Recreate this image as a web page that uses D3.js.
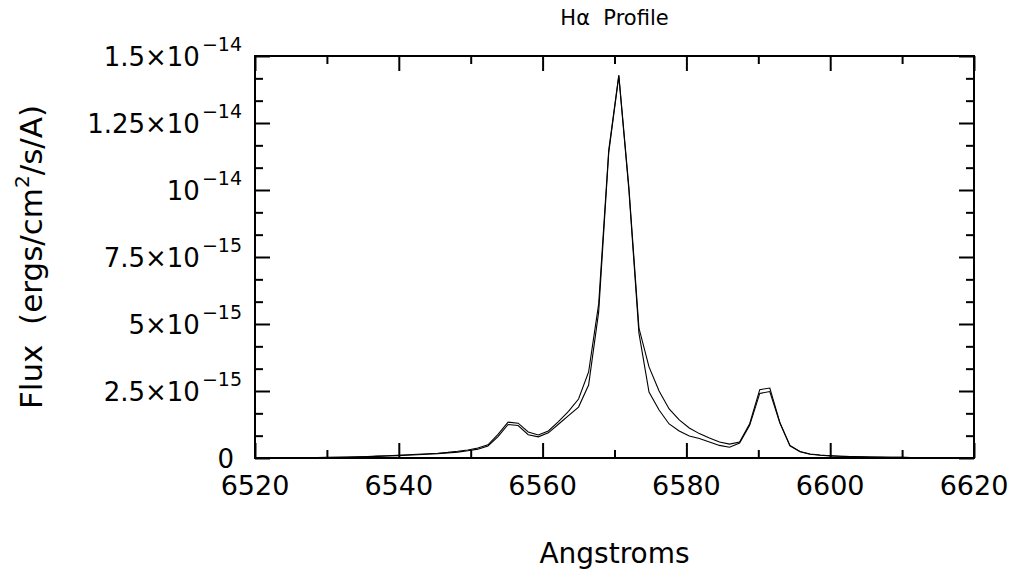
<!DOCTYPE html>
<html>
<head>
<meta charset="utf-8">
<script src="https://cdn.jsdelivr.net/npm/d3@7"></script>
<style>
  body { margin: 0; background: #fff; }
  text { font-family: "DejaVu Sans", sans-serif; fill: #000; white-space: pre; }
</style>
</head>
<body>
<svg id="chart" width="1011" height="571"></svg>
<script>
// Wavelength grid (Angstroms)
const wavelength = [
  6520.2, 6521.6, 6523.0, 6524.4, 6525.8, 6527.2, 6528.6, 6530.0, 6531.4, 6532.8,
  6534.2, 6535.6, 6537.0, 6538.4, 6539.8, 6541.2, 6542.6, 6544.0, 6545.4, 6546.8,
  6548.2, 6549.6, 6551.0, 6552.4, 6553.8, 6555.2, 6556.6, 6558.0, 6559.4, 6560.8,
  6562.2, 6563.6, 6565.0, 6566.4, 6567.8, 6569.2, 6570.6, 6572.0, 6573.4, 6574.8,
  6576.2, 6577.6, 6579.0, 6580.4, 6581.8, 6583.2, 6584.6, 6586.0, 6587.4, 6588.8,
  6590.2, 6591.6, 6593.0, 6594.4, 6595.8, 6597.2, 6598.6, 6600.0, 6601.4, 6602.8,
  6604.2, 6605.6, 6607.0, 6608.4, 6609.8, 6611.2, 6612.6, 6614.0, 6615.4, 6616.8,
  6618.2, 6619.6
];

// Flux of the two spectra, in units of 1e-15 ergs/cm^2/s/A
const fluxA = [
  0.006, 0.007, 0.008, 0.010, 0.012, 0.014, 0.018, 0.022, 0.028, 0.035,
  0.045, 0.055, 0.070, 0.085, 0.100, 0.120, 0.140, 0.160, 0.180, 0.210,
  0.250, 0.300, 0.370, 0.490, 0.880, 1.340, 1.300, 0.970, 0.860, 1.010,
  1.360, 1.740, 2.200, 3.210, 5.750, 11.49, 14.29, 10.10, 4.850, 3.400,
  2.500, 1.830, 1.420, 1.120, 0.910, 0.750, 0.600, 0.520, 0.600, 1.280,
  2.550, 2.610, 1.330, 0.470, 0.240, 0.150, 0.110, 0.085, 0.068, 0.055,
  0.045, 0.038, 0.032, 0.027, 0.023, 0.020, 0.017, 0.015, 0.013, 0.011,
  0.010, 0.009
];
const fluxB = [
  0.005, 0.006, 0.007, 0.008, 0.010, 0.012, 0.015, 0.019, 0.024, 0.030,
  0.038, 0.047, 0.060, 0.074, 0.088, 0.105, 0.122, 0.140, 0.160, 0.185,
  0.220, 0.270, 0.330, 0.450, 0.800, 1.250, 1.210, 0.870, 0.790, 0.940,
  1.260, 1.580, 1.900, 2.720, 5.450, 11.40, 14.25, 10.00, 4.660, 2.460,
  1.790, 1.270, 1.010, 0.820, 0.730, 0.600, 0.470, 0.400, 0.560, 1.220,
  2.410, 2.480, 1.300, 0.450, 0.230, 0.140, 0.100, 0.080, 0.064, 0.052,
  0.043, 0.036, 0.030, 0.026, 0.022, 0.019, 0.016, 0.014, 0.012, 0.010,
  0.009, 0.008
];

// Axis ticks
const xMajorTicks = [6520, 6540, 6560, 6580, 6600, 6620];
const xMinorTicks = [6530, 6550, 6570, 6590, 6610];
const yMajorTicks = [0, 2.5, 5, 7.5, 10, 12.5, 15];
const yTickMantissa = ["0", "2.5×10", "5×10", "7.5×10", "10", "1.25×10", "1.5×10"];
const yTickExponent = ["", "−15", "−15", "−15", "−14", "−14", "−14"];
const yMinorPerMajor = 3;

const titleText = "Hα  Profile";
const xTitle = "Angstroms";
const yTitle = "Flux  (ergs/cm";
const yTitleSup = "2";
const yTitleTail = "/s/A)";

const svg = d3.select("#chart");
const plotLeft = 255, plotRight = 974, plotTop = 56, plotBottom = 458;

const x = d3.scaleLinear().domain([6520, 6620]).range([plotLeft, plotRight]);
const y = d3.scaleLinear().domain([0, 15]).range([plotBottom, plotTop]);

const yMinorTicks = [];
for (let i = 0; i < yMajorTicks.length - 1; i++) {
  const step = (yMajorTicks[i + 1] - yMajorTicks[i]) / yMinorPerMajor;
  for (let j = 1; j < yMinorPerMajor; j++) yMinorTicks.push(yMajorTicks[i] + j * step);
}

const majorLen = 15, minorLen = 8;

function tickAxis(axisFn, scale, values, len, transform) {
  const g = svg.append("g")
    .attr("transform", transform)
    .call(axisFn(scale).tickValues(values).tickSizeInner(-len).tickSizeOuter(0).tickFormat(""));
  g.select(".domain").remove();
  g.selectAll(".tick line").attr("stroke", "#000").attr("stroke-width", 2);
}

tickAxis(d3.axisBottom, x, xMajorTicks, majorLen, `translate(0,${plotBottom})`);
tickAxis(d3.axisBottom, x, xMinorTicks, minorLen, `translate(0,${plotBottom})`);
tickAxis(d3.axisTop, x, xMajorTicks, majorLen, `translate(0,${plotTop})`);
tickAxis(d3.axisTop, x, xMinorTicks, minorLen, `translate(0,${plotTop})`);
tickAxis(d3.axisLeft, y, yMajorTicks, majorLen, `translate(${plotLeft},0)`);
tickAxis(d3.axisLeft, y, yMinorTicks, minorLen, `translate(${plotLeft},0)`);
tickAxis(d3.axisRight, y, yMajorTicks, majorLen, `translate(${plotRight},0)`);
tickAxis(d3.axisRight, y, yMinorTicks, minorLen, `translate(${plotRight},0)`);

// Plot frame
svg.append("rect")
  .attr("x", plotLeft).attr("y", plotTop)
  .attr("width", plotRight - plotLeft).attr("height", plotBottom - plotTop)
  .attr("fill", "none").attr("stroke", "#000").attr("stroke-width", 2);

// Spectra
const line = d3.line()
  .x((d, i) => x(wavelength[i]))
  .y(d => y(d));

[fluxA, fluxB].forEach(series => {
  svg.append("path")
    .datum(series)
    .attr("d", line)
    .attr("fill", "none")
    .attr("stroke", "#000")
    .attr("stroke-width", 1.1)
    .attr("stroke-linejoin", "miter");
});

// X tick labels
svg.append("g").selectAll("text")
  .data(xMajorTicks)
  .join("text")
  .attr("x", d => x(d))
  .attr("y", 495)
  .attr("text-anchor", "middle")
  .attr("font-size", 27)
  .text(d => d);

// Y tick labels: mantissa followed by a raised exponent
const yLab = svg.append("g");
const labelRight = 242;
yMajorTicks.forEach((v, i) => {
  const base = y(v) + 9.5;
  let mainRight = 234;
  if (yTickExponent[i]) {
    const sup = yLab.append("text")
      .attr("x", labelRight)
      .attr("y", base - 15)
      .attr("text-anchor", "end")
      .attr("font-size", 19)
      .text(yTickExponent[i]);
    mainRight = labelRight - sup.node().getComputedTextLength() - 2;
  }
  yLab.append("text")
    .attr("x", mainRight)
    .attr("y", base)
    .attr("text-anchor", "end")
    .attr("font-size", 26)
    .text(yTickMantissa[i]);
});

// Titles
svg.append("text")
  .attr("x", (plotLeft + plotRight) / 2)
  .attr("y", 25)
  .attr("text-anchor", "middle")
  .attr("font-size", 21)
  .text(titleText);

svg.append("text")
  .attr("x", (plotLeft + plotRight) / 2)
  .attr("y", 563)
  .attr("text-anchor", "middle")
  .attr("font-size", 28)
  .text(xTitle);

const yt = svg.append("text")
  .attr("transform", `translate(42,${(plotTop + plotBottom) / 2}) rotate(-90)`)
  .attr("text-anchor", "middle")
  .attr("font-size", 31);
yt.append("tspan").text(yTitle);
yt.append("tspan").attr("dy", -13).attr("font-size", 20).text(yTitleSup);
yt.append("tspan").attr("dy", 13).text(yTitleTail);
</script>
</body>
</html>
